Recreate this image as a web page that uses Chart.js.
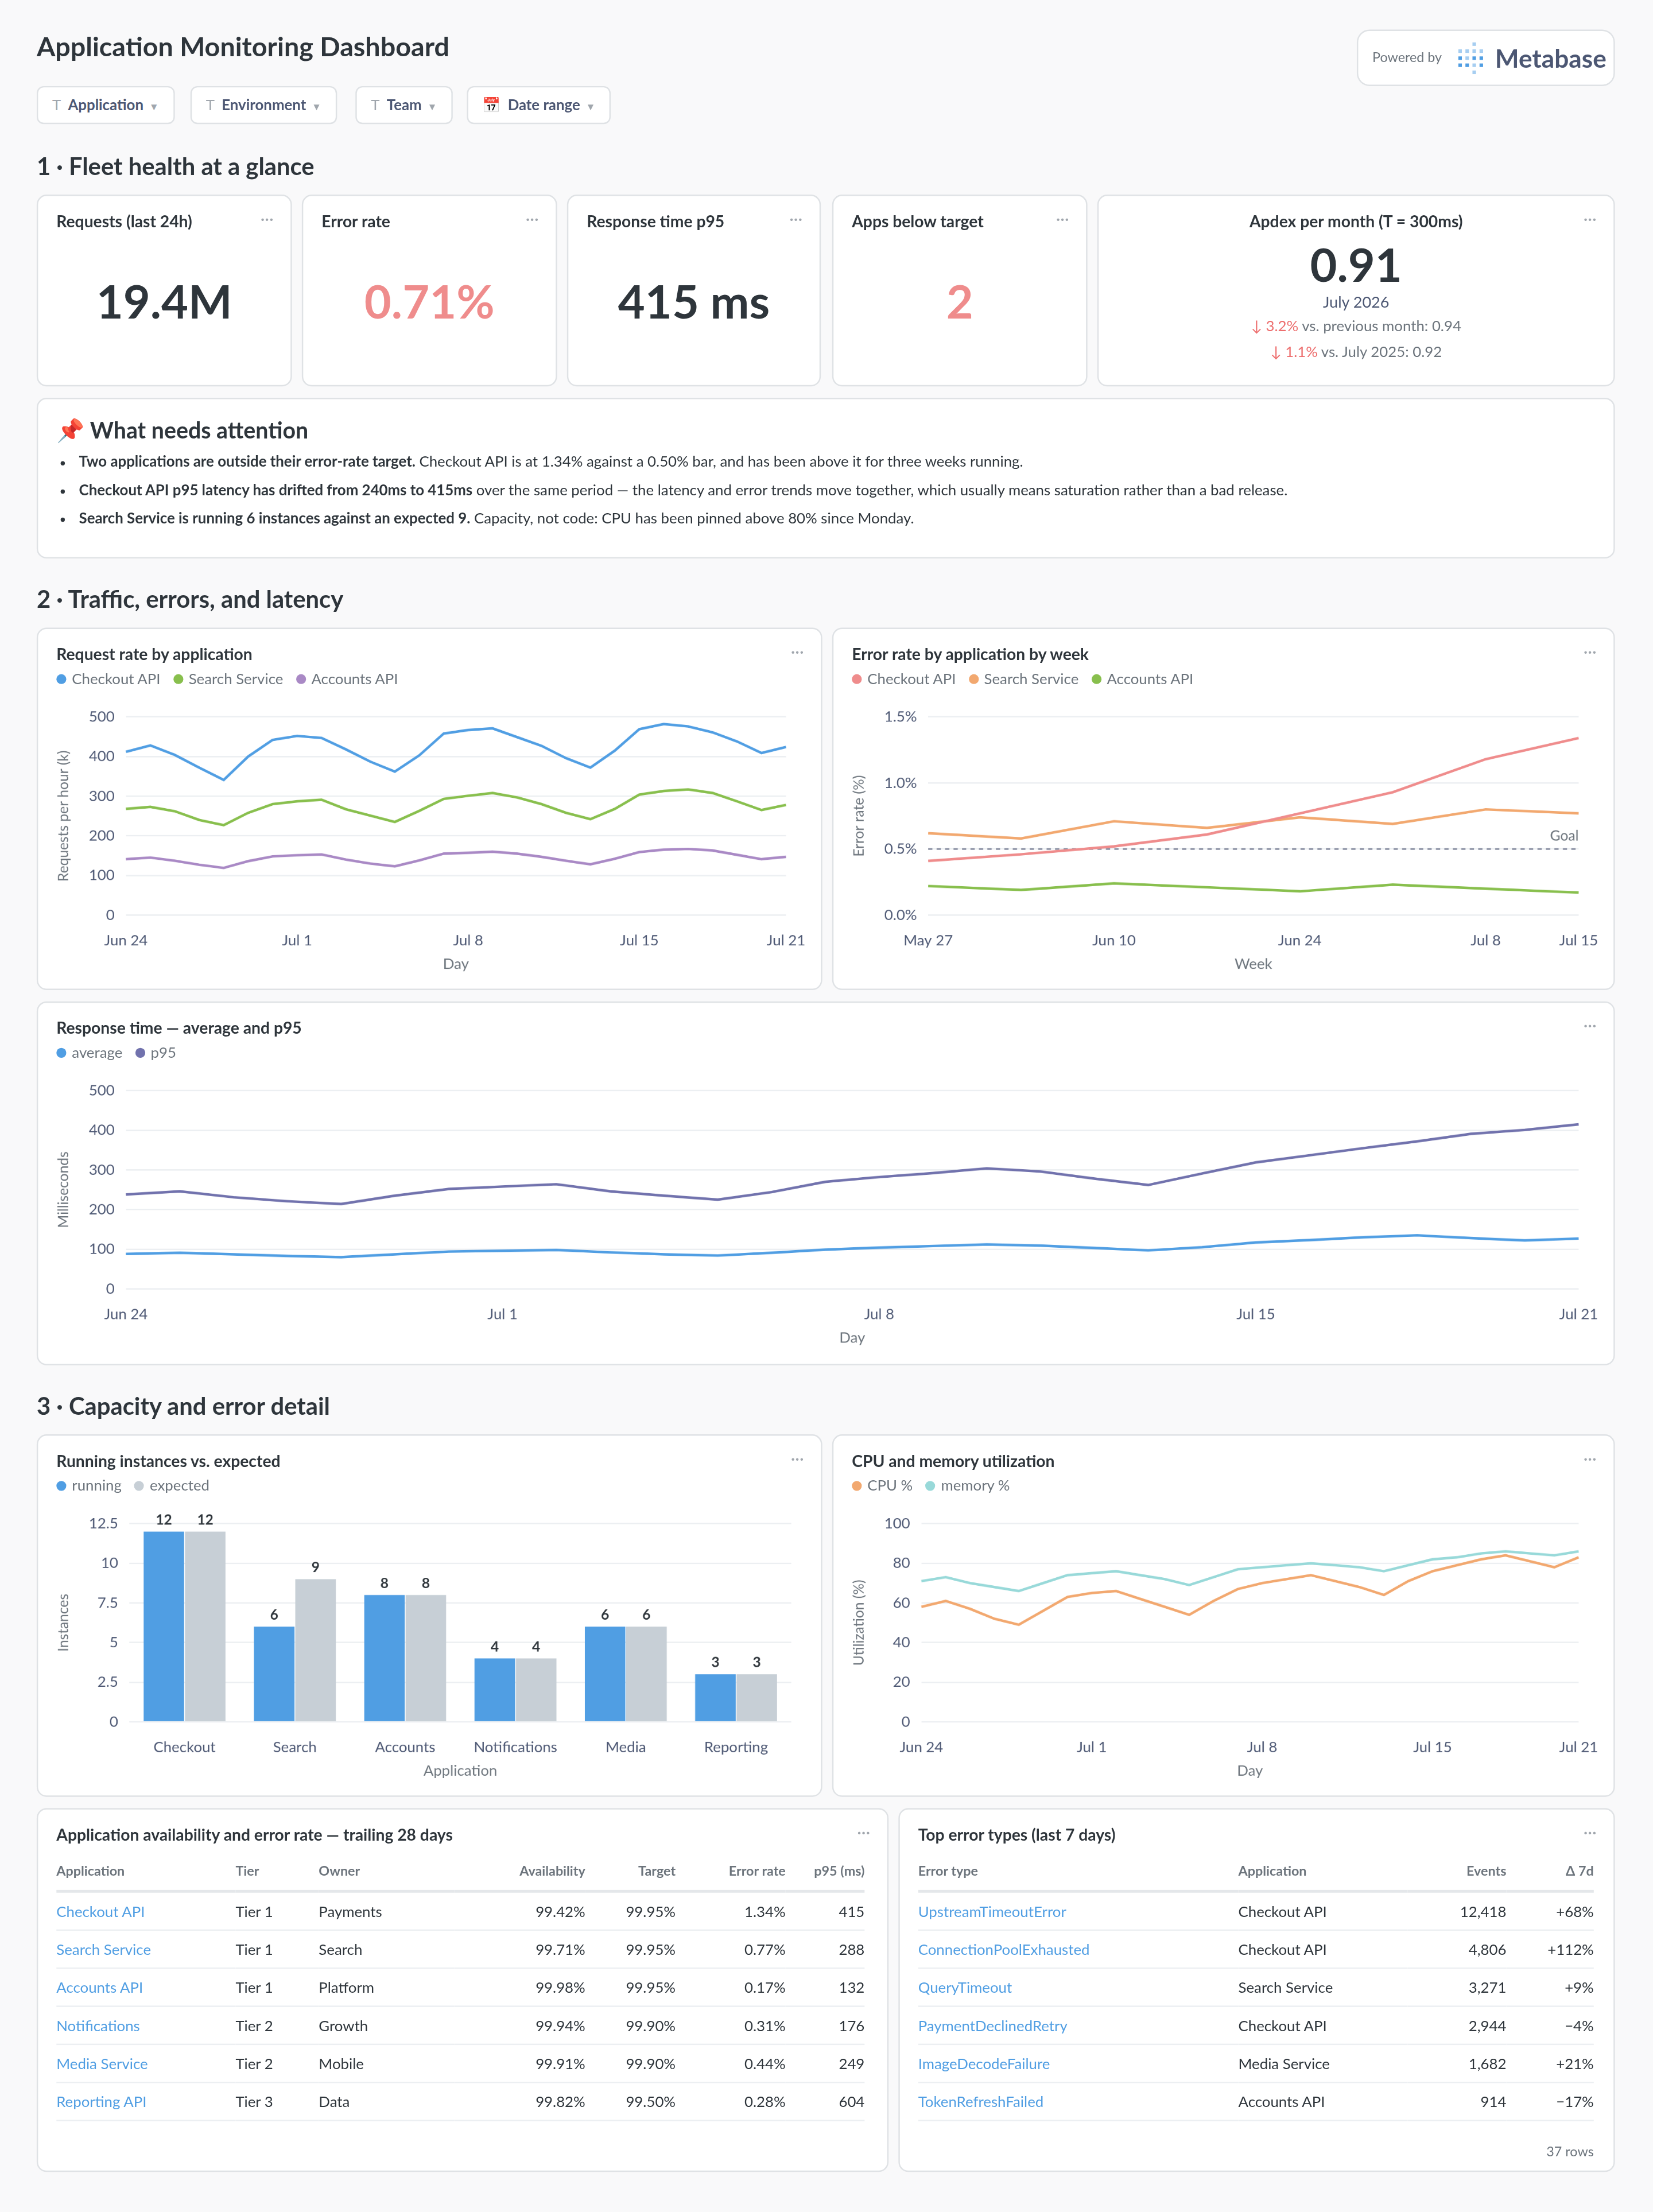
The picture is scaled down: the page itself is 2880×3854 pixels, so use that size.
<!DOCTYPE html>
<html>
<head>
<meta charset="utf-8">
<script src="https://cdn.jsdelivr.net/npm/chart.js@4.4.1/dist/chart.umd.min.js"></script>
<style>
html, body { margin: 0; padding: 0; background: #f9f9fa; }
body { width: 2880px; height: 3854px; overflow: hidden; font-family: Lato, "Open Sans", sans-serif; color: #2e353b; }
#page { position: absolute; left: 0; top: 0; width: 1172px; height: 1568px; transform: scale(2.45734); transform-origin: 0 0; }
.abs { position: absolute; }
.card { position: absolute; background: #fff; border: 1px solid #dfe2e5; border-radius: 7px; box-sizing: border-box; }
.ttl { position: absolute; left: 13px; top: 11px; font-size: 11.5px; font-weight: 700; color: #2e353b; }
.dots { position: absolute; right: 12px; top: 8px; font-size: 12px; color: #a0a6ad; letter-spacing: 0px; }
.legend { position: absolute; left: 13px; top: 29px; font-size: 10.5px; color: #6c747c; }
.legend span { margin-right: 9px; }
.legend i { display: inline-block; width: 7px; height: 7px; border-radius: 50%; margin-right: 4px; vertical-align: 0px; }
.chartbox { position: absolute; }
h2 { position: absolute; margin: 0; font-size: 17px; font-weight: 700; color: #2e353b; }
.filter { position: absolute; top: 61px; height: 27px; border: 1px solid #dfe2e5; border-radius: 5px; background: #fff; box-sizing: border-box; font-size: 10.5px; font-weight: 700; color: #4c5773; line-height: 25px; padding: 0 10px; }
.filter .t { color: #a0a6ad; font-weight: 400; margin-right: 5px; }
.filter .c { color: #a0a6ad; font-size: 7px; margin-left: 4px; }
.big { position: absolute; left: 0; right: 0; text-align: center; font-weight: 700; }
table { border-collapse: collapse; font-size: 10.5px; }
th { font-weight: 700; color: #6c747c; font-size: 9.5px; text-align: left; height: 27px; border-bottom: 2px solid #e4e7ea; padding: 0; }
td { height: 26px; border-bottom: 1px solid #eceff2; padding: 0; color: #2e353b; }
.r { text-align: right; }
.lnk { color: #509ee3; }
</style>
</head>
<body>
<div id="page">
  <div class="abs" style="left:26px;top:21px;font-size:19px;font-weight:700;">Application Monitoring Dashboard</div>
  <div class="card" style="left:962px;top:21px;width:183px;height:40px;border-radius:9px;">
    <span class="abs" style="left:10px;top:13px;font-size:9.5px;color:#6c747c;">Powered by</span>
    <svg class="abs" style="left:70px;top:8px" width="22" height="24" viewBox="0 0 22 24">
      <g fill="#509ee3">
        <rect x="1" y="5" width="2.5" height="2.5" opacity=".5"/><rect x="6" y="5" width="2.5" height="2.5" opacity=".5"/><rect x="11" y="5" width="2.5" height="2.5" opacity=".5"/><rect x="16" y="5" width="2.5" height="2.5" opacity=".5"/>
        <rect x="11" y="0" width="2.5" height="2.5" opacity=".5"/>
        <rect x="1" y="10" width="2.5" height="2.5"/><rect x="6" y="10" width="2.5" height="2.5" opacity=".5"/><rect x="11" y="10" width="2.5" height="2.5"/><rect x="16" y="10" width="2.5" height="2.5"/>
        <rect x="1" y="15" width="2.5" height="2.5"/><rect x="6" y="15" width="2.5" height="2.5"/><rect x="11" y="15" width="2.5" height="2.5" opacity=".5"/><rect x="16" y="15" width="2.5" height="2.5"/>
        <rect x="11" y="20" width="2.5" height="2.5" opacity=".5"/>
      </g>
    </svg>
    <span class="abs" style="left:97px;top:8px;font-size:18px;font-weight:700;color:#4c5773;">Metabase</span>
  </div>
  <div class="filter" style="left:26px;"><span class="t">T</span>Application<span class="c">▼</span></div>
  <div class="filter" style="left:135px;"><span class="t">T</span>Environment<span class="c">▼</span></div>
  <div class="filter" style="left:252px;"><span class="t">T</span>Team<span class="c">▼</span></div>
  <div class="filter" style="left:331px;"><span class="t">📅</span>Date range<span class="c">▼</span></div>

  <h2 style="left:26px;top:107px;">1 · Fleet health at a glance</h2>
  <div class="card" style="left:26px;top:138px;width:181px;height:136px;"><div class="ttl">Requests (last 24h)</div><div class="dots">···</div><div class="big" style="top:54px;font-size:33px;color:#2e353b;">19.4M</div></div>
  <div class="card" style="left:214px;top:138px;width:181px;height:136px;"><div class="ttl">Error rate</div><div class="dots">···</div><div class="big" style="top:54px;font-size:33px;color:#ef8c8c;">0.71%</div></div>
  <div class="card" style="left:402px;top:138px;width:180px;height:136px;"><div class="ttl">Response time p95</div><div class="dots">···</div><div class="big" style="top:54px;font-size:33px;color:#2e353b;">415 ms</div></div>
  <div class="card" style="left:590px;top:138px;width:181px;height:136px;"><div class="ttl">Apps below target</div><div class="dots">···</div><div class="big" style="top:54px;font-size:33px;color:#ef8c8c;">2</div></div>
  <div class="card" style="left:778px;top:138px;width:367px;height:136px;">
    <div class="ttl" style="left:0;right:0;text-align:center;">Apdex per month (T = 300ms)</div><div class="dots">···</div>
    <div class="big" style="top:28px;font-size:33px;">0.91</div>
    <div class="big" style="top:68px;font-size:11px;font-weight:400;color:#4c5773;">July 2026</div>
    <div class="big" style="top:86px;font-size:10.5px;font-weight:400;color:#6c747c;"><span style="color:#ed6e6e">↓ 3.2%</span> vs. previous month: 0.94</div>
    <div class="big" style="top:104px;font-size:10.5px;font-weight:400;color:#6c747c;"><span style="color:#ed6e6e">↓ 1.1%</span> vs. July 2025: 0.92</div>
  </div>

  <div class="card" style="left:26px;top:282px;width:1119px;height:114px;">
    <div class="abs" style="left:13px;top:12px;font-size:16px;font-weight:700;">📌 What needs attention</div>
    <ul class="abs" style="left:0;top:34px;margin:0;padding-left:29px;font-size:10.5px;line-height:20px;color:#2e353b;">
      <li><b>Two applications are outside their error-rate target.</b> Checkout API is at 1.34% against a 0.50% bar, and has been above it for three weeks running.</li>
      <li><b>Checkout API p95 latency has drifted from 240ms to 415ms</b> over the same period — the latency and error trends move together, which usually means saturation rather than a bad release.</li>
      <li><b>Search Service is running 6 instances against an expected 9.</b> Capacity, not code: CPU has been pinned above 80% since Monday.</li>
    </ul>
  </div>

  <h2 style="left:26px;top:414px;">2 · Traffic, errors, and latency</h2>
  <div class="card" style="left:26px;top:445px;width:557px;height:257px;">
    <div class="ttl">Request rate by application</div><div class="dots">···</div>
    <div class="legend"><span><i style="background:#509ee3"></i>Checkout API</span><span><i style="background:#88bf4d"></i>Search Service</span><span><i style="background:#a989c5"></i>Accounts API</span></div>
    <div class="chartbox" style="left:8px;top:48px;width:540px;height:200px;"><canvas id="reqChart"></canvas></div>
  </div>
  <div class="card" style="left:590px;top:445px;width:555px;height:257px;">
    <div class="ttl">Error rate by application by week</div><div class="dots">···</div>
    <div class="legend"><span><i style="background:#ef8c8c"></i>Checkout API</span><span><i style="background:#f2a86f"></i>Search Service</span><span><i style="background:#88bf4d"></i>Accounts API</span></div>
    <div class="chartbox" style="left:8px;top:48px;width:538px;height:200px;"><canvas id="errChart"></canvas></div>
  </div>
  <div class="card" style="left:26px;top:710px;width:1119px;height:258px;">
    <div class="ttl">Response time — average and p95</div><div class="dots">···</div>
    <div class="legend"><span><i style="background:#509ee3"></i>average</span><span><i style="background:#7172ad"></i>p95</span></div>
    <div class="chartbox" style="left:8px;top:48px;width:1102px;height:200px;"><canvas id="rtChart"></canvas></div>
  </div>

  <h2 style="left:26px;top:986px;">3 · Capacity and error detail</h2>
  <div class="card" style="left:26px;top:1017px;width:557px;height:257px;">
    <div class="ttl">Running instances vs. expected</div><div class="dots">···</div>
    <div class="legend"><span><i style="background:#509ee3"></i>running</span><span><i style="background:#c7cfd6"></i>expected</span></div>
    <div class="chartbox" style="left:8px;top:48px;width:540px;height:200px;"><canvas id="instChart"></canvas></div>
  </div>
  <div class="card" style="left:590px;top:1017px;width:555px;height:257px;">
    <div class="ttl">CPU and memory utilization</div><div class="dots">···</div>
    <div class="legend"><span><i style="background:#f2a86f"></i>CPU %</span><span><i style="background:#98d9d9"></i>memory %</span></div>
    <div class="chartbox" style="left:8px;top:48px;width:538px;height:200px;"><canvas id="cpuChart"></canvas></div>
  </div>

  <div class="card" style="left:26px;top:1282px;width:604px;height:258px;">
    <div class="ttl">Application availability and error rate — trailing 28 days</div><div class="dots">···</div>
    <table id="availTable" class="abs" style="left:13px;top:30px;width:573px;"></table>
  </div>
  <div class="card" style="left:637px;top:1282px;width:508px;height:258px;">
    <div class="ttl">Top error types (last 7 days)</div><div class="dots">···</div>
    <table id="errTable" class="abs" style="left:13px;top:30px;width:479px;"></table>
    <div class="abs" style="right:14px;top:237px;font-size:9.5px;color:#6c747c;">37 rows</div>
  </div>
</div>

<script>
// daily series, Jun 24 .. Jul 21
const dayLabels = [];
for (let i = 0; i < 28; i++) {
    const d = new Date(2026, 5, 24 + i);
    dayLabels.push(d.toLocaleString("en-US", { month: "short" }) + " " + d.getDate());
}
const dayTickIdx = [0, 7, 14, 21, 27];

const checkoutReq = [412, 428, 404, 372, 341, 400, 442, 452, 447, 418, 387, 362, 403, 458, 467, 471, 449, 427, 396, 372, 415, 469, 482, 476, 461, 438, 409, 424];
const searchReq = [268, 273, 262, 240, 227, 258, 280, 287, 291, 267, 251, 235, 263, 293, 301, 308, 297, 280, 258, 242, 268, 304, 313, 317, 308, 287, 265, 278];
const accountsReq = [141, 145, 137, 127, 119, 136, 148, 151, 153, 140, 130, 123, 138, 155, 157, 160, 155, 147, 137, 128, 142, 159, 165, 167, 163, 152, 141, 147];

const weekLabels = ["May 27", "Jun 3", "Jun 10", "Jun 17", "Jun 24", "Jul 1", "Jul 8", "Jul 15"];
const weekTickIdx = [0, 2, 4, 6, 7];
const checkoutErr = [0.41, 0.46, 0.52, 0.61, 0.77, 0.93, 1.18, 1.34];
const searchErr = [0.62, 0.58, 0.71, 0.66, 0.74, 0.69, 0.80, 0.77];
const accountsErr = [0.22, 0.19, 0.24, 0.21, 0.18, 0.23, 0.20, 0.17];
const errGoal = 0.5;

const rtAverage = [88, 91, 87, 83, 80, 87, 94, 96, 98, 92, 87, 84, 91, 99, 104, 108, 112, 109, 103, 97, 105, 117, 123, 130, 135, 128, 122, 127];
const rtP95 = [238, 246, 231, 221, 214, 235, 252, 258, 264, 246, 235, 225, 244, 270, 282, 292, 304, 296, 278, 262, 291, 319, 337, 355, 372, 391, 401, 415];

const appNames = ["Checkout", "Search", "Accounts", "Notifications", "Media", "Reporting"];
const running = [12, 6, 8, 4, 6, 3];
const expected = [12, 9, 8, 4, 6, 3];

const cpuPct = [58, 61, 57, 52, 49, 56, 63, 65, 66, 62, 58, 54, 61, 67, 70, 72, 74, 71, 68, 64, 71, 76, 79, 82, 84, 81, 78, 83];
const memPct = [71, 73, 70, 68, 66, 70, 74, 75, 76, 74, 72, 69, 73, 77, 78, 79, 80, 79, 78, 76, 79, 82, 83, 85, 86, 85, 84, 86];

const availHead = ["Application", "Tier", "Owner", "Availability", "Target", "Error rate", "p95 (ms)"];
const availApps = ["Checkout API", "Search Service", "Accounts API", "Notifications", "Media Service", "Reporting API"];
const availTier = ["Tier 1", "Tier 1", "Tier 1", "Tier 2", "Tier 2", "Tier 3"];
const availOwner = ["Payments", "Search", "Platform", "Growth", "Mobile", "Data"];
const availPct = ["99.42%", "99.71%", "99.98%", "99.94%", "99.91%", "99.82%"];
const availTarget = ["99.95%", "99.95%", "99.95%", "99.90%", "99.90%", "99.50%"];
const availErr = ["1.34%", "0.77%", "0.17%", "0.31%", "0.44%", "0.28%"];
const availP95 = ["415", "288", "132", "176", "249", "604"];

const errHead = ["Error type", "Application", "Events", "Δ 7d"];
const errTypes = ["UpstreamTimeoutError", "ConnectionPoolExhausted", "QueryTimeout", "PaymentDeclinedRetry", "ImageDecodeFailure", "TokenRefreshFailed"];
const errApps = ["Checkout API", "Checkout API", "Search Service", "Checkout API", "Media Service", "Accounts API"];
const errEvents = ["12,418", "4,806", "3,271", "2,944", "1,682", "914"];
const errDelta = ["+68%", "+112%", "+9%", "−4%", "+21%", "−17%"];

Chart.defaults.font.family = "Lato, 'Open Sans', sans-serif";
Chart.defaults.font.size = 10.5;
Chart.defaults.color = "#4c5773";
Chart.defaults.plugins.legend.display = false;
Chart.defaults.plugins.tooltip.enabled = false;
Chart.defaults.animation = false;

const gridColor = "#eceff2";

function lineSet(data, color) {
    return { data: data, borderColor: color, backgroundColor: color, borderWidth: 1.8, pointRadius: 0, tension: 0 };
}

function baseOptions(ticksIdx, xTitle, yTitle, yOpts) {
    return {
        responsive: true,
        maintainAspectRatio: false,
        devicePixelRatio: 3,
        layout: { padding: { right: 14, left: 0 } },
        scales: {
            x: {
                grid: { display: false },
                border: { display: false },
                ticks: {
                    autoSkip: false, maxRotation: 0, padding: 4,
                    callback: function (v, i) { return ticksIdx.includes(i) ? this.getLabelForValue(v) : null; },
                },
                title: { display: true, text: xTitle, color: "#6c747c", font: { size: 10.5 }, padding: { top: 0 } },
            },
            y: Object.assign({
                grid: { color: gridColor, drawTicks: false },
                border: { display: false },
                ticks: { padding: 8 },
                title: { display: !!yTitle, text: yTitle, color: "#6c747c", font: { size: 10 } },
            }, yOpts),
        },
    };
}

new Chart(document.getElementById("reqChart"), {
    type: "line",
    data: { labels: dayLabels, datasets: [lineSet(checkoutReq, "#509ee3"), lineSet(searchReq, "#88bf4d"), lineSet(accountsReq, "#a989c5")] },
    options: baseOptions(dayTickIdx, "Day", "Requests per hour (k)", { min: 0, max: 500, ticks: { stepSize: 100, padding: 8 } }),
});

// "Goal" label for the dashed goal line
const goalLabel = {
    id: "goalLabel",
    afterDatasetsDraw(chart) {
        const ctx = chart.ctx;
        const y = chart.scales.y.getPixelForValue(errGoal);
        ctx.save();
        ctx.font = "10px Lato";
        ctx.fillStyle = "#6c747c";
        ctx.textAlign = "right";
        ctx.fillText("Goal", chart.chartArea.right, y - 6);
        ctx.restore();
    },
};
const errOpts = baseOptions(weekTickIdx, "Week", "Error rate (%)", {
    min: 0, max: 1.5,
    ticks: { stepSize: 0.5, padding: 8, callback: (v) => v.toFixed(1) + "%" },
});
new Chart(document.getElementById("errChart"), {
    type: "line",
    data: {
        labels: weekLabels,
        datasets: [
            lineSet(checkoutErr, "#ef8c8c"), lineSet(searchErr, "#f2a86f"), lineSet(accountsErr, "#88bf4d"),
            { data: weekLabels.map(() => errGoal), borderColor: "#8d93a5", borderWidth: 1.2, borderDash: [3, 3], pointRadius: 0 },
        ],
    },
    options: errOpts,
    plugins: [goalLabel],
});

new Chart(document.getElementById("rtChart"), {
    type: "line",
    data: { labels: dayLabels, datasets: [lineSet(rtAverage, "#509ee3"), lineSet(rtP95, "#7172ad")] },
    options: baseOptions(dayTickIdx, "Day", "Milliseconds", { min: 0, max: 500, ticks: { stepSize: 100, padding: 8 } }),
});

// value labels above bars
const barValues = {
    id: "barValues",
    afterDatasetsDraw(chart) {
        const ctx = chart.ctx;
        ctx.save();
        ctx.font = "bold 10px Lato";
        ctx.fillStyle = "#2e353b";
        ctx.textAlign = "center";
        chart.data.datasets.forEach((ds, di) => {
            chart.getDatasetMeta(di).data.forEach((bar, i) => {
                ctx.fillText(ds.data[i], bar.x, bar.y - 5);
            });
        });
        ctx.restore();
    },
};
const instOpts = baseOptions([0, 1, 2, 3, 4, 5], "Application", "Instances", {
    min: 0, max: 12.5, ticks: { stepSize: 2.5, padding: 8 },
});
instOpts.layout.padding.top = 10;
new Chart(document.getElementById("instChart"), {
    type: "bar",
    data: {
        labels: appNames,
        datasets: [
            { data: running, backgroundColor: "#509ee3", categoryPercentage: 0.75, barPercentage: 0.98 },
            { data: expected, backgroundColor: "#c7cfd6", categoryPercentage: 0.75, barPercentage: 0.98 },
        ],
    },
    options: instOpts,
    plugins: [barValues],
});

new Chart(document.getElementById("cpuChart"), {
    type: "line",
    data: { labels: dayLabels, datasets: [lineSet(cpuPct, "#f2a86f"), lineSet(memPct, "#98d9d9")] },
    options: baseOptions(dayTickIdx, "Day", "Utilization (%)", { min: 0, max: 100, ticks: { stepSize: 20, padding: 8 } }),
});

// tables
function fillTable(id, head, cols, alignRight, widths) {
    const t = document.getElementById(id);
    let html = "<tr>" + head.map((h, i) => `<th class="${alignRight[i] ? "r" : ""}" style="width:${widths[i]}px">${h}</th>`).join("") + "</tr>";
    for (let r = 0; r < cols[0].length; r++) {
        html += "<tr>" + cols.map((c, i) => `<td class="${alignRight[i] ? "r" : ""} ${i === 0 ? "lnk" : ""}">${c[r]}</td>`).join("") + "</tr>";
    }
    t.innerHTML = html;
}
fillTable("availTable", availHead, [availApps, availTier, availOwner, availPct, availTarget, availErr, availP95],
    [false, false, false, true, true, true, true], [127, 59, 96, 93, 64, 78, 56]);
fillTable("errTable", errHead, [errTypes, errApps, errEvents, errDelta],
    [false, false, true, true], [227, 120, 70, 62]);
</script>
</body>
</html>
